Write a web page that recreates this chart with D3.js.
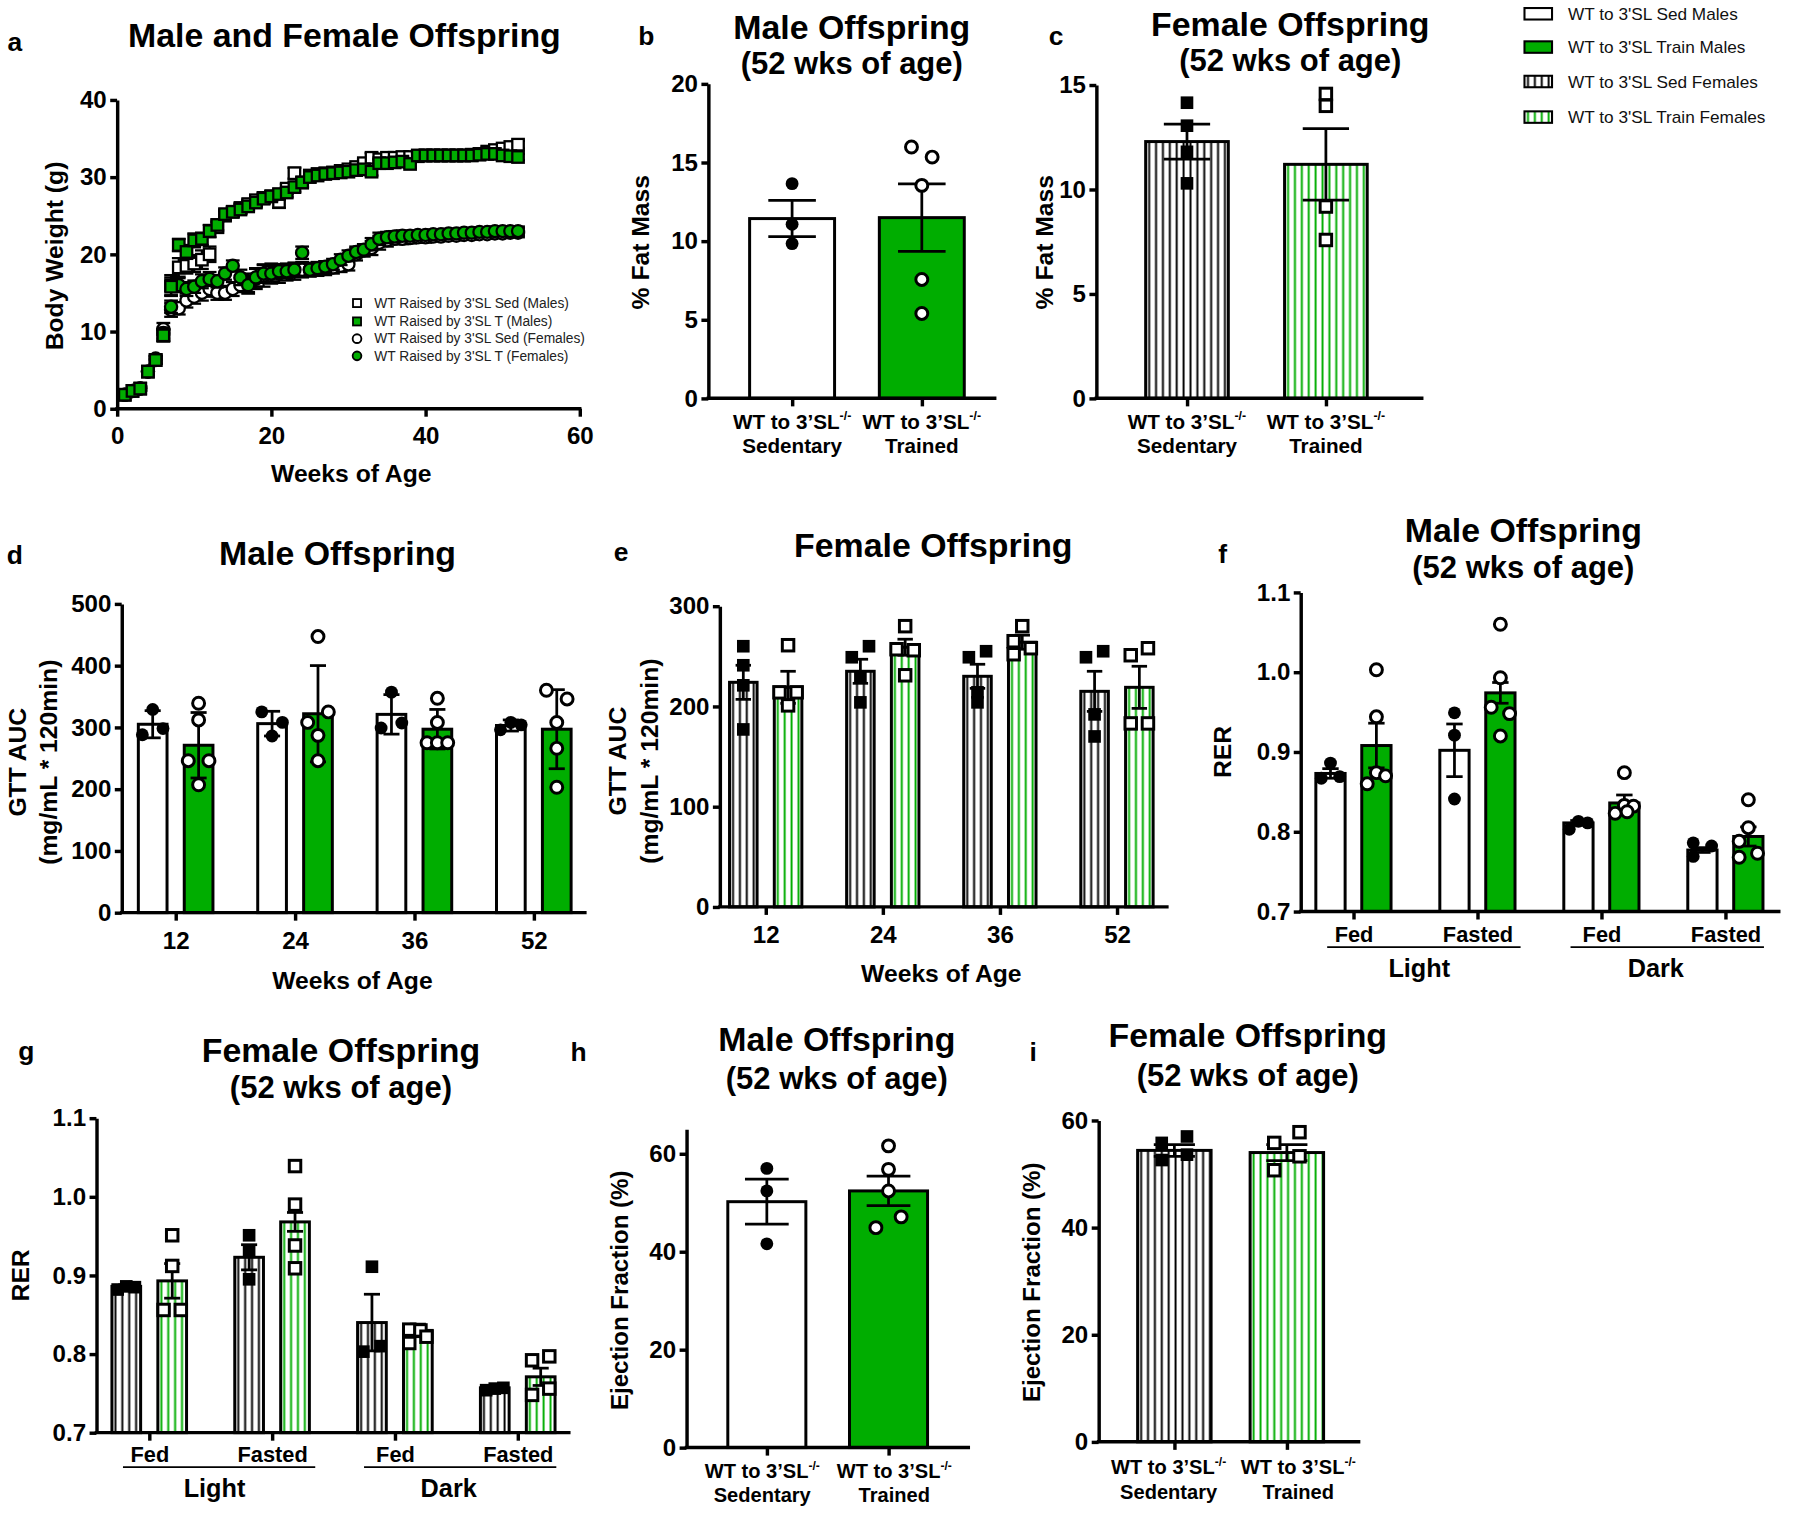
<!DOCTYPE html>
<html><head><meta charset="utf-8">
<script src="https://cdn.jsdelivr.net/npm/d3@7"></script>
<style>body{margin:0;background:#fff} svg{display:block}</style>
</head><body>
<svg id="fig" width="1800" height="1513" viewBox="0 0 1568 1318"></svg>
<script>
// ---------------- DATA ----------------
// Panel a: body weight (g) by week of age
const bwWeeks = [1,2,3,4,5,6,7,8,9,10,11,12,13,14,15,16,17,18,19,20,21,22,23,24,25,26,27,28,29,30,31,32,33,34,35,36,37,38,39,40,41,42,43,44,45,46,47,48,49,50,51,52];
const bwMaleSed = [1.8,2.3,2.6,4.8,6.3,9.5,16.0,18.3,18.5,18.8,19.3,20.0,23.5,25.0,25.5,26.0,26.5,27.0,27.3,27.5,26.8,28.5,30.5,29.3,30.2,30.4,30.5,30.6,30.8,31.0,31.3,31.8,32.5,32.3,32.5,32.5,32.6,32.6,32.7,32.8,32.8,32.8,32.8,32.8,32.8,32.9,33.0,33.3,33.5,33.7,33.9,34.2];
const bwMaleSedSem = [0.2,0.2,0.3,0.4,0.5,0.8,1.3,1.2,1.0,1.1,1.2,1.0,0.7,0.6,0.6,0.6,0.6,0.6,0.7,0.7,0.8,0.6,0.7,0.6,0.5,0.5,0.5,0.5,0.5,0.5,0.5,0.5,0.6,0.5,0.5,0.5,0.5,0.5,0.4,0.4,0.4,0.4,0.4,0.4,0.4,0.4,0.4,0.5,0.5,0.5,0.5,0.5];
const bwMaleTr = [1.8,2.3,2.6,4.8,6.3,9.5,15.8,21.2,20.3,21.8,22.0,23.0,23.8,25.2,25.5,25.8,26.2,26.7,27.2,27.5,27.8,28.0,28.7,29.3,30.0,30.2,30.4,30.5,30.6,30.7,30.9,31.0,30.7,31.8,31.8,31.9,32.0,31.7,32.8,32.8,32.8,32.8,32.8,32.8,32.8,32.8,32.9,33.0,33.0,32.8,32.7,32.6];
const bwMaleTrSem = [0.2,0.2,0.3,0.4,0.5,0.7,1.2,0.8,0.9,0.9,0.8,0.8,0.7,0.6,0.6,0.6,0.6,0.6,0.6,0.6,0.6,0.6,0.6,0.6,0.5,0.5,0.5,0.5,0.5,0.5,0.5,0.5,0.5,0.5,0.5,0.5,0.5,0.5,0.4,0.4,0.4,0.4,0.4,0.4,0.4,0.4,0.4,0.4,0.4,0.4,0.4,0.4];
const bwFemSed = [1.8,2.3,2.6,4.8,6.3,10.3,12.8,13.0,14.0,14.5,15.0,15.5,15.0,15.0,15.5,16.0,16.3,16.8,17.2,17.5,17.5,17.7,17.8,18.0,18.0,18.1,18.2,18.3,18.5,18.7,20.0,20.5,20.8,21.5,21.8,22.0,22.0,22.1,22.2,22.2,22.3,22.3,22.4,22.4,22.5,22.5,22.6,22.6,22.7,22.7,22.8,22.8];
const bwFemSedSem = [0.2,0.2,0.3,0.4,0.5,0.8,0.9,0.8,0.9,0.9,1.0,1.0,0.9,0.9,0.9,0.9,1.2,1.3,1.4,1.3,1.2,1.1,1.1,1.0,0.9,0.9,0.9,0.8,0.8,0.8,0.8,0.8,0.9,0.9,0.8,0.7,0.7,0.7,0.7,0.7,0.6,0.6,0.6,0.6,0.6,0.6,0.6,0.6,0.6,0.6,0.6,0.6];
const bwFemTr = [1.8,2.3,2.6,4.8,6.5,9.8,13.2,16.0,15.5,15.8,16.5,16.8,16.5,17.5,18.5,17.0,16.0,17.0,17.5,17.5,17.8,17.8,18.0,20.2,18.0,18.2,18.4,18.7,19.3,19.8,20.3,20.6,21.3,22.0,22.2,22.3,22.4,22.4,22.5,22.5,22.6,22.6,22.7,22.7,22.8,22.8,22.9,22.9,23.0,23.0,23.0,23.0];
const bwFemTrSem = [0.2,0.2,0.3,0.4,0.5,0.7,0.8,0.9,0.9,0.8,0.9,0.9,0.8,0.8,0.7,1.0,1.1,1.2,1.2,1.0,0.9,0.9,0.9,0.8,0.8,0.7,0.7,0.7,0.7,0.7,0.7,0.7,0.8,0.8,0.7,0.7,0.7,0.6,0.6,0.6,0.6,0.6,0.6,0.6,0.6,0.6,0.6,0.6,0.6,0.6,0.6,0.6];
const bwLegend = ["WT Raised by 3'SL Sed (Males)","WT Raised by 3'SL T (Males)","WT Raised by 3'SL Sed (Females)","WT Raised by 3'SL T (Females)"];

// Two-group categories
const groupCats = ["Sedentary","Trained"];
// Panel b: % fat mass, males
const fatMaleMean = [11.43, 11.49];
const fatMaleSem = [1.15, 2.15];
const fatMalePts = [[13.65,11.07,9.84],[15.98,15.34,13.54,7.56,5.4]];
const fatMaleJit = [[0,0,0],[-1,1,0,0,0]];
// Panel c: % fat mass, females
const fatFemMean = [12.29, 11.2];
const fatFemSem = [0.84, 1.71];
const fatFemPts = [[14.15,13.05,11.8,10.29],[14.57,14.0,9.18,7.58]];
const fatFemJit = [[0,0,0,0],[0,0,0,0]];

// Panels d,e: GTT AUC by week
const gttWeeks = ["12","24","36","52"];
const gttMaleSedMean = [305, 306, 321, 303];
const gttMaleSedErr = [22, 20, 32, 9];
const gttMaleSedPts = [[329,288,298],[325,308,286],[357,299,307],[296,308,304]];
const gttMaleSedJit = [[0,-1,1],[-1,1,0],[0,-1,1],[-1,0,1]];
const gttMaleTrMean = [271, 322, 297, 297];
const gttMaleTrErr = [53, 78, 32, 64];
const gttMaleTrPts = [[339,312,246,246,207],[447,325,308,287,246],[347,308,275,275,275],[360,346,308,266,203]];
const gttMaleTrJit = [[0,0,-1,1,0],[0,1,-1,0,0],[0,0,-1,0,1],[-1,1,0,0,0]];
const gttFemSedMean = [224, 235, 230, 215];
const gttFemSedErr = [17, 12, 12, 20];
const gttFemSedPts = [[260,241,221,177],[249,260,229,204],[249,255,214,204],[249,255,192,170]];
const gttFemSedJit = [[0,0,0,0],[-1,1,0,0],[-1,1,0,0],[-1,1,0,0]];
const gttFemTrMean = [219, 259, 264, 219];
const gttFemTrErr = [16, 8, 7, 21];
const gttFemTrPts = [[261,214,214,201],[280,257,256,231],[280,265,252,258],[251,258,183,183]];
const gttFemTrJit = [[0,-1,1,0],[0,-1,1,0],[0,-1,-1,1],[-1,1,-1,1]];

// Panels f,g: RER
const rerIds = ["LightFed","LightFasted","DarkFed","DarkFasted"];
const rerLabels = ["Fed","Fasted","Fed","Fasted"];
const rerPhases = ["Light","Dark"];
const rerMaleSedMean = [0.873, 0.902, 0.811, 0.777];
const rerMaleSedErr = [0.006, 0.033, 0.003, 0.003];
const rerMaleSedPts = [[0.886,0.867,0.869],[0.949,0.921,0.841],[0.803,0.813,0.811],[0.786,0.769,0.782]];
const rerMaleSedJit = [[0,-1,1],[0,0,0],[-1,0,1],[-1,-1,1]];
const rerMaleTrMean = [0.908, 0.974, 0.836, 0.794];
const rerMaleTrErr = [0.028, 0.013, 0.010, 0.012];
const rerMaleTrPts = [[1.003,0.944,0.874,0.870,0.860],[1.060,0.993,0.956,0.948,0.920],[0.874,0.833,0.823,0.832,0.825],[0.840,0.805,0.788,0.768,0.773]];
const rerMaleTrJit = [[0,0,0,1,-1],[0,0,-1,1,0],[0,0,-1,1,0.3],[0,0,-1,-1,1]];
const rerFemSedMean = [0.886, 0.923, 0.840, 0.757];
const rerFemSedErr = [0.002, 0.016, 0.036, 0.001];
const rerFemSedPts = [[0.882,0.886,0.885],[0.951,0.930,0.895],[0.911,0.803,0.810],[0.754,0.756,0.757]];
const rerFemSedJit = [[-1,0,1],[0,0,0],[0,-1,1],[-1,0,1]];
const rerFemTrMean = [0.893, 0.968, 0.830, 0.771];
const rerFemTrErr = [0.022, 0.012, 0.008, 0.011];
const rerFemTrPts = [[0.951,0.912,0.856,0.856],[1.039,0.990,0.938,0.909],[0.831,0.814,0.830,0.822],[0.792,0.797,0.756,0.748]];
const rerFemTrJit = [[0,0,-1,1],[0,0,0,0],[-1,-1,0.3,1],[-1,1,1,-1]];

// Panels h,i: ejection fraction
const efMaleMean = [50.2, 52.4];
const efMaleSem = [4.6, 3.0];
const efMalePts = [[57.0,52.4,41.6],[61.6,56.8,52.4,47.1,44.9]];
const efMaleJit = [[0,0,0],[0,0,0,1,-1]];
const efFemMean = [54.4, 54.0];
const efFemSem = [1.1, 1.5];
const efFemPts = [[55.8,52.6,57.0,53.6],[57.8,55.8,53.3,50.7]];
const efFemJit = [[-1,-1,1,1],[1,-1,1,-1]];

const legendLabels = ["WT to 3'SL Sed Males","WT to 3'SL Train Males","WT to 3'SL Sed Females","WT to 3'SL Train Females"];

// ---------------- DRAWING ----------------
const FONT = "'Liberation Sans', Arial, Helvetica, sans-serif";
const GREEN = "#00ad00";
const svg = d3.select("#fig");
svg.append("rect").attr("width",1568).attr("height",1318).attr("fill","#fff");
const defs = svg.append("defs");
let patN = 0;
function stripes(color, x0) {
  const id = "pat" + (patN++);
  const p = defs.append("pattern").attr("id", id).attr("patternUnits","userSpaceOnUse")
    .attr("x", x0).attr("y", 0).attr("width", 6).attr("height", 20);
  p.append("rect").attr("width",6).attr("height",20).attr("fill","#fff");
  p.append("rect").attr("x",2.2).attr("width",1.7).attr("height",20).attr("fill",color);
  return `url(#${id})`;
}
function fillFor(kind, x0) {
  if (kind === "white") return "#fff";
  if (kind === "green") return GREEN;
  if (kind === "stripeK") return stripes("#000", x0);
  return stripes(GREEN, x0);
}

function text(g, x, y, s, size, o = {}) {
  const t = g.append("text").attr("x", x).attr("y", y).attr("dy", "0.35em")
    .attr("text-anchor", o.anchor || "middle").attr("font-family", FONT)
    .attr("font-size", size).attr("font-weight", o.weight || "bold").attr("fill", o.fill || "#000");
  if (o.rotate) t.attr("transform", `rotate(-90,${x},${y})`);
  t.text(s);
  return t;
}
function styleAxis(a, size) {
  a.attr("font-family", FONT).attr("font-size", size).attr("font-weight", "bold");
  a.select(".domain").attr("stroke", "#000").attr("stroke-width", 3);
  a.selectAll(".tick line").attr("stroke", "#000").attr("stroke-width", 3);
  a.selectAll(".tick text").attr("fill", "#000");
}
function yAxis(g, y, ax, ticks, fmt) {
  const a = g.append("g").attr("transform", `translate(${ax},0)`)
    .call(d3.axisLeft(y).tickValues(ticks).tickSize(6).tickSizeOuter(0).tickPadding(3)
      .tickFormat(fmt || d3.format("d")));
  styleAxis(a, 21);
}
function xBase(g, y0, ax, xEnd) {
  g.append("line").attr("x1", ax - 1.5).attr("x2", xEnd).attr("y1", y0).attr("y2", y0)
    .attr("stroke", "#000").attr("stroke-width", 3);
}
function xTicks(g, x, y0, fmt, size, pad) {
  const a = g.append("g").attr("transform", `translate(0,${y0})`)
    .call(d3.axisBottom(x).tickSize(7).tickSizeOuter(0).tickPadding(pad).tickFormat(fmt));
  styleAxis(a, size);
  a.select(".domain").remove();
  return a;
}
function marker(g, kind, cx, cy) {
  if (kind === "dotK") g.append("circle").attr("cx", cx).attr("cy", cy).attr("r", 5.6).attr("fill", "#000");
  else if (kind === "dotW") g.append("circle").attr("cx", cx).attr("cy", cy).attr("r", 5.2)
    .attr("fill", "#fff").attr("stroke", "#000").attr("stroke-width", 2.6);
  else if (kind === "sqK") g.append("rect").attr("x", cx - 5.5).attr("y", cy - 5.5).attr("width", 11).attr("height", 11).attr("fill", "#000");
  else g.append("rect").attr("x", cx - 5).attr("y", cy - 5).attr("width", 10).attr("height", 10)
    .attr("fill", "#fff").attr("stroke", "#000").attr("stroke-width", 2.6);
}
// draw one bar with error and points
function bar(g, y, cx, w, mean, err, pts, jit, jitUnit, fillKind, mk) {
  const yb = y(y.domain()[0]);
  g.append("rect").attr("x", cx - w / 2).attr("y", y(mean)).attr("width", w).attr("height", yb - y(mean))
    .attr("fill", fillFor(fillKind, cx - w / 2)).attr("stroke", "#000").attr("stroke-width", 2.6);
  const cw = w * 0.28;
  const eg = g.append("g").attr("stroke", "#000").attr("stroke-width", 2.4);
  eg.append("line").attr("x1", cx).attr("x2", cx).attr("y1", y(mean - err)).attr("y2", y(mean + err));
  eg.append("line").attr("x1", cx - cw).attr("x2", cx + cw).attr("y1", y(mean + err)).attr("y2", y(mean + err));
  eg.append("line").attr("x1", cx - cw).attr("x2", cx + cw).attr("y1", y(mean - err)).attr("y2", y(mean - err));
  pts.forEach((v, i) => marker(g, mk, cx + jit[i] * jitUnit, y(v)));
}
function catLabels(g, x, y1, y2, size, shift) {
  groupCats.forEach((c, i) => {
    const cx = x(c) + (shift ? shift[i] : 0);
    const t = g.append("text").attr("x", cx).attr("y", y1).attr("dy", "0.35em").attr("text-anchor", "middle")
      .attr("font-family", FONT).attr("font-size", size).attr("font-weight", "bold");
    t.append("tspan").text("WT to 3\u2019SL");
    t.append("tspan").attr("dy", -7).attr("font-size", size * 0.6).text("-/-");
    text(g, cx, y2, c, size);
  });
}
function title2(g, cx, y1, s1, y2, s2) {
  text(g, cx, y1, s1, 29.5);
  if (s2) text(g, cx, y2, s2, 27);
}

// ---- Panel a ----
(function () {
  const g = svg.append("g");
  const x = d3.scaleLinear().domain([0, 60]).range([102, 505]);
  const y = d3.scaleLinear().domain([0, 40]).range([356, 87]);
  const series = [
    { v: bwFemSed, e: bwFemSedSem, fill: "#fff", shape: "c" },
    { v: bwFemTr, e: bwFemTrSem, fill: GREEN, shape: "c" },
    { v: bwMaleSed, e: bwMaleSedSem, fill: "#fff", shape: "s" },
    { v: bwMaleTr, e: bwMaleTrSem, fill: GREEN, shape: "s" },
  ];
  series.forEach(s => {
    const eg = g.append("g").attr("stroke", "#000").attr("stroke-width", 2);
    bwWeeks.forEach((w, i) => {
      const cx = x(w), hi = y(s.v[i] + s.e[i]), lo = y(s.v[i] - s.e[i]);
      eg.append("line").attr("x1", cx).attr("x2", cx).attr("y1", lo).attr("y2", hi);
      eg.append("line").attr("x1", cx - 6).attr("x2", cx + 6).attr("y1", hi).attr("y2", hi);
      eg.append("line").attr("x1", cx - 6).attr("x2", cx + 6).attr("y1", lo).attr("y2", lo);
    });
    bwWeeks.forEach((w, i) => {
      if (s.shape === "s")
        g.append("rect").attr("x", x(w) - 5).attr("y", y(s.v[i]) - 5).attr("width", 10).attr("height", 10)
          .attr("fill", s.fill).attr("stroke", "#000").attr("stroke-width", 2);
      else
        g.append("circle").attr("cx", x(w)).attr("cy", y(s.v[i])).attr("r", 5.3)
          .attr("fill", s.fill).attr("stroke", "#000").attr("stroke-width", 2);
    });
  });
  const ya = g.append("g").attr("transform", "translate(102,0)")
    .call(d3.axisLeft(y).tickValues([0, 10, 20, 30, 40]).tickSize(6).tickSizeOuter(0).tickPadding(3));
  styleAxis(ya, 21);
  const xa = g.append("g").attr("transform", "translate(0,356)")
    .call(d3.axisBottom(x).tickValues([0, 20, 40, 60]).tickSize(7).tickSizeOuter(0).tickPadding(8.5));
  styleAxis(xa, 21);
  xa.select(".domain").remove();
  xBase(g, 356, 102, 506.5);
  // legend
  const lg = g.append("g");
  bwLegend.forEach((s, i) => {
    const yy = [264, 280, 295, 310][i];
    if (i < 2) lg.append("rect").attr("x", 307.5).attr("y", yy - 3.5).attr("width", 7).attr("height", 7)
      .attr("fill", i === 0 ? "#fff" : GREEN).attr("stroke", "#000").attr("stroke-width", 1.6);
    else lg.append("circle").attr("cx", 311).attr("cy", yy).attr("r", 3.8)
      .attr("fill", i === 2 ? "#fff" : GREEN).attr("stroke", "#000").attr("stroke-width", 1.6);
    text(lg, 326, yy, s, 12, { anchor: "start", weight: "normal", fill: "#222" });
  });
  text(g, 13, 36, "a", 23);
  title2(g, 300, 30.5, "Male and Female Offspring");
  text(g, 47, 223, "Body Weight (g)", 21.5, { rotate: true });
  text(g, 306, 412, "Weeks of Age", 21.5);
})();

// ---- Panel b ----
(function () {
  const g = svg.append("g");
  const y = d3.scaleLinear().domain([0, 20]).range([347, 73]);
  const x = d3.scalePoint().domain(groupCats).range([690, 803]);
  const kinds = ["white", "green"], mks = ["dotK", "dotW"];
  groupCats.forEach((c, i) => bar(g, y, x(c), 74, fatMaleMean[i], fatMaleSem[i], fatMalePts[i], fatMaleJit[i], 9, kinds[i], mks[i]));
  yAxis(g, y, 617, [0, 5, 10, 15, 20]);
  xTicks(g, x, 347, () => "", 18, 4);
  xBase(g, 347, 617, 868);
  catLabels(g, x, 367, 388, 18);
  text(g, 563, 31, "b", 23);
  title2(g, 742, 24, "Male Offspring", 55, "(52 wks of age)");
  text(g, 558, 211, "% Fat Mass", 21.5, { rotate: true });
})();

// ---- Panel c ----
(function () {
  const g = svg.append("g");
  const y = d3.scaleLinear().domain([0, 15]).range([347, 74]);
  const x = d3.scalePoint().domain(groupCats).range([1034, 1155]);
  const kinds = ["stripeK", "stripeG"], mks = ["sqK", "sqW"];
  groupCats.forEach((c, i) => bar(g, y, x(c), 72, fatFemMean[i], fatFemSem[i], fatFemPts[i], fatFemJit[i], 9, kinds[i], mks[i]));
  yAxis(g, y, 955, [0, 5, 10, 15]);
  xTicks(g, x, 347, () => "", 18, 4);
  xBase(g, 347, 955, 1240);
  catLabels(g, x, 367, 388, 18);
  text(g, 920, 31, "c", 23);
  title2(g, 1124, 21, "Female Offspring", 52, "(52 wks of age)");
  text(g, 910, 211, "% Fat Mass", 21.5, { rotate: true });
})();

// ---- Legend (top right) ----
(function () {
  const g = svg.append("g");
  const kinds = ["white", "green", "stripeK", "stripeG"];
  legendLabels.forEach((s, i) => {
    const yy = [12, 41, 71, 102][i];
    g.append("rect").attr("x", 1328).attr("y", yy - 5).attr("width", 24).attr("height", 10)
      .attr("fill", fillFor(kinds[i], 1328)).attr("stroke", "#000").attr("stroke-width", 1.8);
    text(g, 1366, yy, s, 15, { anchor: "start", weight: "normal", fill: "#111" });
  });
})();

// ---- grouped bar panel helper ----
function groupedPanel(cfg) {
  const g = svg.append("g");
  const y = d3.scaleLinear().domain(cfg.domain).range(cfg.yRange);
  const x = d3.scalePoint().domain(cfg.cats).range(cfg.xRange);
  const inner = d3.scaleBand().domain(["sed", "tr"]).range([-cfg.off - cfg.bw / 2, cfg.off + cfg.bw / 2]).paddingInner(1 - cfg.bw / (2 * cfg.off));
  cfg.cats.forEach((c, i) => {
    cfg.series.forEach(s => {
      const cx = x(c) + inner(s.key) + inner.bandwidth() / 2;
      bar(g, y, cx, inner.bandwidth(), s.mean[i], s.err[i], s.pts[i], s.jit[i], cfg.jit, s.kind, s.mk);
    });
  });
  yAxis(g, y, cfg.ax, cfg.yTicks, cfg.fmt);
  const y0 = cfg.yRange[0];
  const ta = xTicks(g, x, y0, cfg.xFmt, cfg.xSize, cfg.xPad);
  xBase(g, y0, cfg.ax, cfg.xEnd);
  return { g, x, y, ta };
}

// ---- Panel d ----
(function () {
  const p = groupedPanel({
    domain: [0, 500], yRange: [795, 526], cats: gttWeeks, xRange: [153, 465], off: 20, bw: 25, jit: 9,
    ax: 106, xEnd: 511, yTicks: [0, 100, 200, 300, 400, 500], xFmt: d => d, xSize: 21, xPad: 9.5,
    series: [
      { key: "sed", mean: gttMaleSedMean, err: gttMaleSedErr, pts: gttMaleSedPts, jit: gttMaleSedJit, kind: "white", mk: "dotK" },
      { key: "tr", mean: gttMaleTrMean, err: gttMaleTrErr, pts: gttMaleTrPts, jit: gttMaleTrJit, kind: "green", mk: "dotW" },
    ]
  });
  const g = p.g;
  text(g, 13, 483, "d", 23);
  title2(g, 294, 482, "Male Offspring");
  text(g, 15, 664, "GTT AUC", 21.5, { rotate: true });
  text(g, 42, 664, "(mg/mL * 120min)", 21.5, { rotate: true });
  text(g, 307, 854, "Weeks of Age", 21.5);
})();

// ---- Panel e ----
(function () {
  const p = groupedPanel({
    domain: [0, 300], yRange: [790, 528], cats: gttWeeks, xRange: [667, 973], off: 19.5, bw: 24, jit: 7.5,
    ax: 627, xEnd: 1018, yTicks: [0, 100, 200, 300], xFmt: d => d, xSize: 21, xPad: 9.5,
    series: [
      { key: "sed", mean: gttFemSedMean, err: gttFemSedErr, pts: gttFemSedPts, jit: gttFemSedJit, kind: "stripeK", mk: "sqK" },
      { key: "tr", mean: gttFemTrMean, err: gttFemTrErr, pts: gttFemTrPts, jit: gttFemTrJit, kind: "stripeG", mk: "sqW" },
    ]
  });
  const g = p.g;
  text(g, 541, 481, "e", 23);
  title2(g, 813, 475, "Female Offspring");
  text(g, 538, 663, "GTT AUC", 21.5, { rotate: true });
  text(g, 566, 663, "(mg/mL * 120min)", 21.5, { rotate: true });
  text(g, 820, 848, "Weeks of Age", 21.5);
})();

// phase underline labels for RER panels
function phaseLabels(p, lineY, labY, labShift) {
  const texts = p.ta.selectAll(".tick text").nodes();
  const ticks = p.x.domain();
  [0, 1].forEach(k => {
    const a = ticks[2 * k], b = ticks[2 * k + 1];
    const wa = texts[2 * k].getComputedTextLength(), wb = texts[2 * k + 1].getComputedTextLength();
    const x1 = p.x(a) - wa / 2 - (k ? 10 : 6), x2 = p.x(b) + wb / 2 + (k ? 3 : 7);
    p.g.append("line").attr("x1", x1).attr("x2", x2).attr("y1", lineY).attr("y2", lineY)
      .attr("stroke", "#000").attr("stroke-width", 1.6);
    text(p.g, (x1 + x2) / 2 + labShift[k], labY, rerPhases[k], 22);
  });
}

// ---- Panel f ----
(function () {
  const p = groupedPanel({
    domain: [0.7, 1.1], yRange: [794, 516], cats: rerIds, xRange: [1179, 1503], off: 20, bw: 25.5, jit: 8,
    ax: 1133, xEnd: 1551, yTicks: [0.7, 0.8, 0.9, 1.0, 1.1], fmt: d3.format(".1f"),
    xFmt: (d, i) => rerLabels[i], xSize: 19, xPad: 6.5,
    series: [
      { key: "sed", mean: rerMaleSedMean, err: rerMaleSedErr, pts: rerMaleSedPts, jit: rerMaleSedJit, kind: "white", mk: "dotK" },
      { key: "tr", mean: rerMaleTrMean, err: rerMaleTrErr, pts: rerMaleTrPts, jit: rerMaleTrJit, kind: "green", mk: "dotW" },
    ]
  });
  phaseLabels(p, 825, 843, [-4, -10]);
  const g = p.g;
  text(g, 1065, 482, "f", 23);
  title2(g, 1327, 462, "Male Offspring", 494, "(52 wks of age)");
  text(g, 1065, 655, "RER", 21.5, { rotate: true });
})();

// ---- Panel g ----
(function () {
  const p = groupedPanel({
    domain: [0.7, 1.1], yRange: [1248, 974], cats: rerIds, xRange: [130, 451], off: 20, bw: 25, jit: 7.5,
    ax: 84, xEnd: 497, yTicks: [0.7, 0.8, 0.9, 1.0, 1.1], fmt: d3.format(".1f"),
    xFmt: (d, i) => rerLabels[i], xSize: 19, xPad: 5.5,
    series: [
      { key: "sed", mean: rerFemSedMean, err: rerFemSedErr, pts: rerFemSedPts, jit: rerFemSedJit, kind: "stripeK", mk: "sqK" },
      { key: "tr", mean: rerFemTrMean, err: rerFemTrErr, pts: rerFemTrPts, jit: rerFemTrJit, kind: "stripeG", mk: "sqW" },
    ]
  });
  phaseLabels(p, 1278, 1296, [-4, -10]);
  const g = p.g;
  text(g, 23, 915, "g", 23);
  title2(g, 297, 915, "Female Offspring", 947, "(52 wks of age)");
  text(g, 18, 1111, "RER", 21.5, { rotate: true });
})();

// ---- Panel h ----
(function () {
  const g = svg.append("g");
  const y = d3.scaleLinear().domain([0, 65]).range([1261, 1261 - 256 * 65 / 60]);
  const x = d3.scalePoint().domain(groupCats).range([668, 774]);
  const kinds = ["white", "green"], mks = ["dotK", "dotW"];
  groupCats.forEach((c, i) => bar(g, y, x(c), 68, efMaleMean[i], efMaleSem[i], efMalePts[i], efMaleJit[i], 11, kinds[i], mks[i]));
  yAxis(g, y, 598, [0, 20, 40, 60]);
  xTicks(g, x, 1261, () => "", 18, 4);
  xBase(g, 1261, 598, 845);
  catLabels(g, x, 1281, 1302, 17.5, [-4, 5]);
  text(g, 504, 916, "h", 23);
  title2(g, 729, 905, "Male Offspring", 939, "(52 wks of age)");
  text(g, 540, 1124, "Ejection Fraction (%)", 21, { rotate: true });
})();

// ---- Panel i ----
(function () {
  const g = svg.append("g");
  const y = d3.scaleLinear().domain([0, 60]).range([1256, 976]);
  const x = d3.scalePoint().domain(groupCats).range([1023, 1121]);
  const kinds = ["stripeK", "stripeG"], mks = ["sqK", "sqW"];
  groupCats.forEach((c, i) => bar(g, y, x(c), 64, efFemMean[i], efFemSem[i], efFemPts[i], efFemJit[i], 11, kinds[i], mks[i]));
  yAxis(g, y, 957, [0, 20, 40, 60]);
  xTicks(g, x, 1256, () => "", 18, 4);
  xBase(g, 1256, 957, 1185);
  catLabels(g, x, 1278, 1300, 17.5, [-5, 10]);
  text(g, 900, 916, "i", 23);
  title2(g, 1087, 902, "Female Offspring", 937, "(52 wks of age)");
  text(g, 899, 1117, "Ejection Fraction (%)", 21, { rotate: true });
})();
</script>
</body></html>
